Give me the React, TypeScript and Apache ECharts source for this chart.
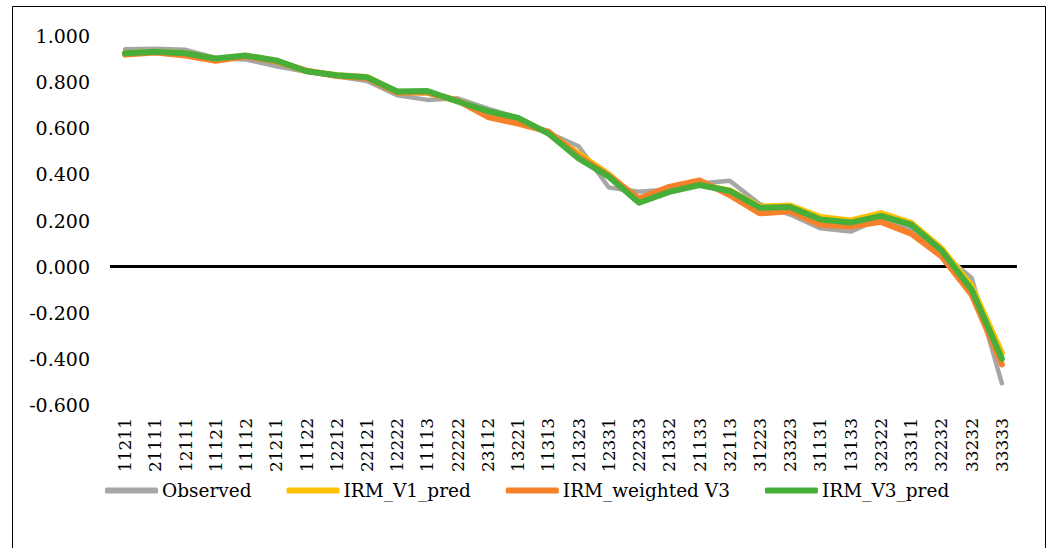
import React, { useEffect, useRef } from "react";
import * as echarts from "echarts";

const categories = ["11211","21111","12111","11121","11112","21211","11122","12212","22121","12222","11113","22222","23112","13221","11313","21323","12331","22233","21332","21133","32113","31223","23323","31131","13133","32322","33311","32232","33232","33333"];
const observed = [0.943,0.945,0.940,0.905,0.898,0.869,0.845,0.825,0.805,0.743,0.723,0.730,0.685,0.645,0.580,0.522,0.343,0.325,0.334,0.360,0.372,0.270,0.226,0.166,0.152,0.210,0.158,0.060,-0.049,-0.506];
const irmV1 = [0.925,0.932,0.925,0.900,0.915,0.892,0.848,0.830,0.822,0.757,0.755,0.718,0.670,0.640,0.580,0.490,0.400,0.285,0.330,0.356,0.330,0.260,0.265,0.215,0.200,0.232,0.190,0.080,-0.085,-0.374];
const irmWeighted = [0.920,0.928,0.915,0.892,0.912,0.890,0.850,0.826,0.818,0.755,0.755,0.720,0.649,0.620,0.585,0.480,0.395,0.295,0.346,0.374,0.310,0.231,0.240,0.182,0.174,0.194,0.143,0.045,-0.121,-0.424];
const irmV3 = [0.925,0.932,0.925,0.902,0.915,0.894,0.847,0.830,0.821,0.759,0.761,0.716,0.674,0.645,0.577,0.469,0.390,0.277,0.324,0.354,0.328,0.255,0.258,0.204,0.191,0.220,0.182,0.071,-0.100,-0.399];

const FONT = "DejaVu Serif";

export default function App() {
  const ref = useRef<HTMLDivElement>(null);
  useEffect(() => {
    if (!ref.current) return;
    const chart = echarts.init(ref.current, undefined, { renderer: "svg" });
    const mk = (name: string, data: number[], color: string, width: number, extra: any = {}) => ({
      name,
      type: "line",
      data,
      symbol: "none",
      lineStyle: { color, width, cap: "round", join: "round" },
      itemStyle: { color },
      ...extra,
    });
    chart.setOption({
      animation: false,
      backgroundColor: "#fff",
      textStyle: { fontFamily: FONT },
      grid: { left: 110, right: 34, top: 36, bottom: 143, containLabel: false },
      xAxis: {
        type: "category",
        data: categories,
        boundaryGap: true,
        axisLine: { show: false, onZero: false },
        axisTick: { show: false },
        axisLabel: { rotate: 90, margin: 13, fontSize: 17, color: "#000", fontFamily: FONT, interval: 0 },
      },
      yAxis: {
        type: "value",
        min: -0.6,
        max: 1.0,
        interval: 0.2,
        splitLine: { show: false },
        axisLine: { show: false },
        axisTick: { show: false },
        axisLabel: {
          margin: 20,
          fontSize: 19,
          color: "#000",
          fontFamily: FONT,
          formatter: (v: number) => (Math.abs(v) < 1e-9 ? 0 : v).toFixed(3),
        },
      },
      legend: {
        left: 100,
        top: 476,
        width: 940,
        itemWidth: 53,
        itemHeight: 6,
        itemGap: 35,
        icon: "roundRect",
        textStyle: { fontSize: 18.5, color: "#000", fontFamily: FONT, padding: [0, 0, 0, -1] },
        data: ["Observed", "IRM_V1_pred", "IRM_weighted V3", "IRM_V3_pred"],
      },
      graphic: [
        {
          type: "rect",
          shape: { x: 12.5, y: 6.5, width: 1033, height: 560 },
          style: { fill: "none", stroke: "#000", lineWidth: 1 },
          silent: true,
        },
      ],
      series: [
        mk("Observed", observed, "#A6A6A6", 4.5, {
          markLine: {
            silent: true,
            symbol: "none",
            label: { show: false },
            lineStyle: { color: "#000", width: 3, type: "solid" },
            data: [{ yAxis: 0 }],
            z: 1,
          },
        }),
        mk("IRM_V1_pred", irmV1, "#FFC000", 6),
        mk("IRM_weighted V3", irmWeighted, "#F7802A", 6),
        mk("IRM_V3_pred", irmV3, "#47AE3A", 6),
      ],
    });
    return () => chart.dispose();
  }, []);
  return <div ref={ref} style={{ position: "fixed", left: 0, top: 0, width: 1051, height: 548 }} />;
}
